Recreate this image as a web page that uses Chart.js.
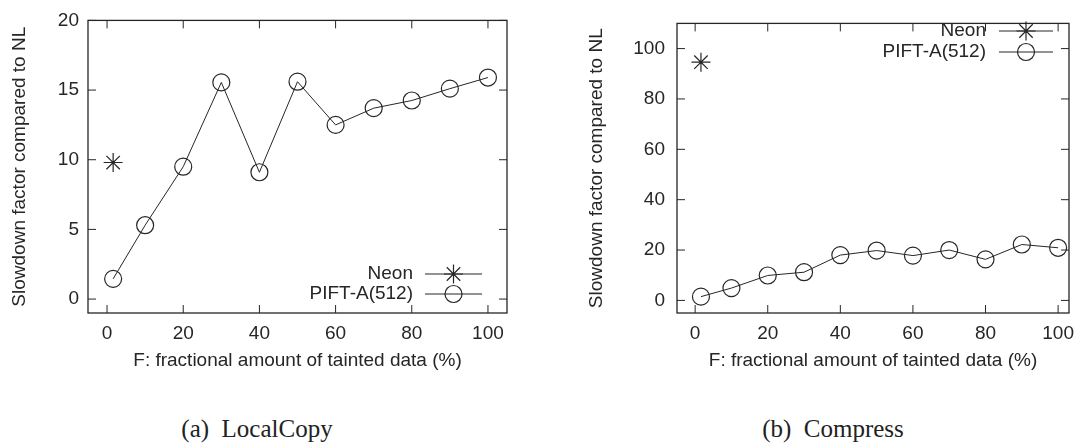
<!DOCTYPE html>
<html>
<head>
<meta charset="utf-8">
<script src="https://cdn.jsdelivr.net/npm/chart.js@4.4.1/dist/chart.umd.min.js"></script>
<style>
  body { margin: 0; background: #fff; width: 1089px; height: 448px; position: relative; overflow: hidden; }
  canvas { position: absolute; top: 0; }
  #localCopy { left: 0; }
  #compress { left: 545px; }
  .caption { position: absolute; top: 414px; line-height: 30px; font-family: 'Liberation Serif', serif; font-size: 25px; color: #222; white-space: pre; transform: translateX(-50%); }
</style>
</head>
<body>
<canvas id="localCopy" width="545" height="390"></canvas>
<canvas id="compress" width="544" height="390"></canvas>
<div class="caption" style="left:257px">(a)  LocalCopy</div>
<div class="caption" style="left:833px">(b)  Compress</div>
<script>
'use strict';

// x positions: fractional amount of tainted data (%)
let fractions = [1.6, 10, 20, 30, 40, 50, 60, 70, 80, 90, 100];
let neonX = [1.6];

// (a) LocalCopy
let localCopyPift = [1.45, 5.3, 9.5, 15.55, 9.1, 15.6, 12.5, 13.7, 14.25, 15.1, 15.9];
let localCopyNeon = [9.8];
let localCopyXTicks = [0, 20, 40, 60, 80, 100];
let localCopyYTicks = [0, 5, 10, 15, 20];

// (b) Compress
let compressPift = [1.5, 4.9, 9.9, 11.2, 18, 19.8, 17.8, 20, 16.3, 22.2, 20.9];
let compressNeon = [94.6];
let compressXTicks = [0, 20, 40, 60, 80, 100];
let compressYTicks = [0, 20, 40, 60, 80, 100];

let ink = '#262626';
let sans = '"Liberation Sans", Arial, sans-serif';

// gnuplot style box, inward ticks on all four sides and the key
let gnuplotFrame = {
  id: 'gnuplotFrame',
  afterDraw(chart, args, opts) {
    let ctx = chart.ctx;
    let a = chart.chartArea;
    let xs = chart.scales.x;
    let ys = chart.scales.y;
    ctx.save();
    ctx.strokeStyle = ink;
    ctx.lineWidth = 1.3;
    ctx.strokeRect(a.left, a.top, a.right - a.left, a.bottom - a.top);
    ctx.lineWidth = 1;
    ctx.beginPath();
    xs.ticks.forEach(function (t) {
      let px = xs.getPixelForValue(t.value);
      ctx.moveTo(px, a.bottom);
      ctx.lineTo(px, a.bottom - 8);
      ctx.moveTo(px, a.top);
      ctx.lineTo(px, a.top + 8);
    });
    ys.ticks.forEach(function (t) {
      let py = ys.getPixelForValue(t.value);
      ctx.moveTo(a.left, py);
      ctx.lineTo(a.left + 8, py);
      ctx.moveTo(a.right, py);
      ctx.lineTo(a.right - 8, py);
    });
    ctx.stroke();

    // key: label, then a line sample with the point symbol
    chart.data.datasets.forEach(function (ds, i) {
      let y = opts.y + i * opts.gap;
      ctx.fillStyle = ink;
      ctx.font = '19px ' + sans;
      ctx.textAlign = 'right';
      ctx.textBaseline = 'middle';
      ctx.fillText(ds.label, opts.x, y);
      ctx.lineWidth = 1;
      ctx.beginPath();
      ctx.moveTo(opts.from, y);
      ctx.lineTo(opts.to, y);
      ctx.stroke();
      ctx.fillStyle = 'rgba(0,0,0,0)';
      ctx.lineWidth = ds.pointBorderWidth;
      Chart.helpers.drawPoint(ctx, {
        pointStyle: ds.pointStyle,
        radius: ds.pointRadius,
        borderWidth: ds.pointBorderWidth,
        rotation: 0
      }, (opts.from + opts.to) / 2, y);
    });
    ctx.restore();
  }
};

function makeChart(id, pift, neon, xMax, yMin, yMax, xTicks, yTicks, yAxisWidth, yTitlePad, yTickPad, rightPad, key) {
  let piftPoints = [];
  for (let i = 0; i < fractions.length; i++) {
    piftPoints.push({ x: fractions[i], y: pift[i] });
  }
  let neonPoints = [];
  for (let i = 0; i < neonX.length; i++) {
    neonPoints.push({ x: neonX[i], y: neon[i] });
  }

  return new Chart(document.getElementById(id), {
    type: 'line',
    data: {
      datasets: [{
        label: 'Neon',
        data: neonPoints,
        showLine: false,
        borderColor: ink,
        borderWidth: 1,
        pointStyle: 'star',
        pointRadius: 9.5,
        pointBorderWidth: 1.2,
        pointBorderColor: ink,
        pointBackgroundColor: 'rgba(0,0,0,0)'
      }, {
        label: 'PIFT-A(512)',
        data: piftPoints,
        borderColor: ink,
        borderWidth: 1,
        tension: 0,
        pointStyle: 'circle',
        pointRadius: 8.5,
        pointBorderWidth: 1.2,
        pointBorderColor: ink,
        pointBackgroundColor: 'rgba(0,0,0,0)'
      }]
    },
    options: {
      responsive: false,
      devicePixelRatio: 1,
      animation: false,
      clip: false,
      layout: { padding: { top: 12, right: rightPad, left: 0, bottom: 0 } },
      plugins: {
        legend: { display: false },
        tooltip: { enabled: false },
        gnuplotFrame: key
      },
      scales: {
        x: {
          type: 'linear',
          min: -5,
          max: xMax,
          grid: { display: false, drawTicks: false },
          border: { display: false },
          afterBuildTicks: function (scale) {
            scale.ticks = xTicks.map(function (v) { return { value: v }; });
          },
          afterFit: function (scale) { scale.height = 77; },
          ticks: { color: ink, font: { family: sans, size: 19 }, padding: 9, maxRotation: 0 },
          title: {
            display: true,
            text: 'F: fractional amount of tainted data (%)',
            color: ink,
            font: { family: sans, size: 19 },
            padding: { top: 0, bottom: 18 }
          }
        },
        y: {
          type: 'linear',
          min: yMin,
          max: yMax,
          grid: { display: false, drawTicks: false },
          border: { display: false },
          afterBuildTicks: function (scale) {
            scale.ticks = yTicks.map(function (v) { return { value: v }; });
          },
          afterFit: function (scale) { scale.width = yAxisWidth; },
          ticks: { color: ink, font: { family: sans, size: 19 }, padding: yTickPad },
          title: {
            display: true,
            text: 'Slowdown factor compared to NL',
            color: ink,
            font: { family: sans, size: 19 },
            padding: { top: yTitlePad, bottom: 0 }
          }
        }
      }
    },
    plugins: [gnuplotFrame]
  });
}

makeChart('localCopy', localCopyPift, localCopyNeon, 105, -1, 20,
  localCopyXTicks, localCopyYTicks, 88, 8, 9, 38,
  { x: 413, y: 274, gap: 20, from: 425, to: 482 });

makeChart('compress', compressPift, compressNeon, 103, -5, 110,
  compressXTicks, compressYTicks, 132, 40, 12, 20,
  { x: 441, y: 31, gap: 21, from: 454, to: 508 });
</script>
</body>
</html>
